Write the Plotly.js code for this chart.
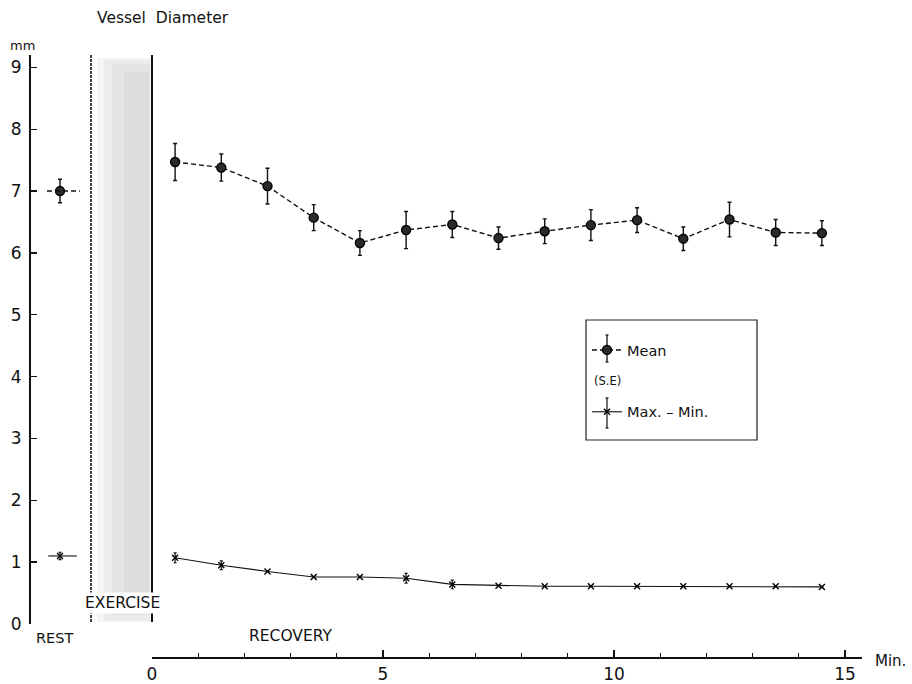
<!DOCTYPE html>
<html>
<head>
<meta charset="utf-8">
<script src="https://cdn.plot.ly/plotly-3.0.1.min.js"></script>
<style>html,body{margin:0;padding:0;background:#fff;}#chart{width:912px;height:684px;}</style>
</head>
<body>
<div id="chart"></div>
<script>
// ---- data ----
const recoveryMinutes = [0.5, 1.5, 2.5, 3.5, 4.5, 5.5, 6.5, 7.5, 8.5, 9.5, 10.5, 11.5, 12.5, 13.5, 14.5];
const meanDiameter   = [7.47, 7.38, 7.08, 6.57, 6.16, 6.37, 6.46, 6.24, 6.35, 6.45, 6.53, 6.23, 6.54, 6.33, 6.32];
const meanSE         = [0.30, 0.22, 0.29, 0.21, 0.20, 0.30, 0.21, 0.18, 0.20, 0.25, 0.20, 0.19, 0.28, 0.21, 0.20];
const maxMinDiameter = [1.07, 0.95, 0.85, 0.76, 0.76, 0.74, 0.64, 0.62, 0.61, 0.61, 0.61, 0.61, 0.61, 0.61, 0.60];
const maxMinSE       = [0.08, 0.07, 0, 0, 0, 0.08, 0.07, 0, 0, 0, 0, 0, 0, 0, 0];
const restPosition = [0.5];
const restMean = [7.0];
const restMeanSE = [0.19];
const restMaxMin = [1.1];
const restMaxMinSE = [0.06];
const yTickValues = [0, 1, 2, 3, 4, 5, 6, 7, 8, 9];
const xTickValues = [0, 5, 10, 15];

// ---- geometry helpers (pixel -> paper) ----
const L = 29, R = 50, T = 55, B = 27, W = 912, H = 684;
const PW = W - L - R, PH = H - T - B;
const px = v => (v - L) / PW;
const py = v => (H - B - v) / PH;
const FONT = '"DejaVu Sans", Verdana, sans-serif';

const meanMarker = {symbol: 'circle', size: 9, color: '#2a2a2a', line: {color: '#000', width: 1.4}};
const xMarker = {symbol: 'x-thin', size: 6, color: '#000', line: {color: '#000', width: 1.4}};

const traces = [
  {
    x: recoveryMinutes, y: meanDiameter, xaxis: 'x', yaxis: 'y',
    name: 'Mean', legendgroup: 'm', mode: 'lines+markers',
    line: {color: '#111', width: 1.4, dash: '5px,3px'},
    marker: meanMarker,
    error_y: {type: 'data', array: meanSE, visible: true, color: '#111', thickness: 1.4, width: 2}
  },
  {
    x: recoveryMinutes, y: maxMinDiameter, xaxis: 'x', yaxis: 'y',
    name: 'Max. – Min.', legendgroup: 'x', mode: 'lines+markers',
    line: {color: '#111', width: 1.1},
    marker: xMarker,
    error_y: {type: 'data', array: maxMinSE, visible: true, color: '#111', thickness: 1.2, width: 1.5}
  },
  {
    x: restPosition, y: restMean, xaxis: 'x2', yaxis: 'y', showlegend: false,
    mode: 'markers', marker: meanMarker,
    error_y: {type: 'data', array: restMeanSE, visible: true, color: '#111', thickness: 1.4, width: 2}
  },
  {
    x: restPosition, y: restMaxMin, xaxis: 'x2', yaxis: 'y', showlegend: false,
    mode: 'markers', marker: xMarker,
    error_y: {type: 'data', array: restMaxMinSE, visible: true, color: '#111', thickness: 1.2, width: 1.5}
  }
];

const vline = (x, y0, y1, w, dash) => ({type: 'line', xref: 'paper', yref: 'paper',
  x0: px(x), x1: px(x), y0: py(y0), y1: py(y1), line: {color: '#111', width: w, dash: dash || 'solid'}});
const hline = (x0, x1, y, w) => ({type: 'line', xref: 'paper', yref: 'paper',
  x0: px(x0), x1: px(x1), y0: py(y), y1: py(y), line: {color: '#111', width: w}});
const band = (x0, x1, y0, y1, c) => ({type: 'rect', xref: 'paper', yref: 'paper',
  x0: px(x0), x1: px(x1), y0: py(y0), y1: py(y1), fillcolor: c, line: {width: 0}, layer: 'below'});

const shapes = [
  // exercise band shading (stippled look approximated with layered greys)
  band(97, 151, 622, 58, '#f4f4f4'),
  band(104, 150, 621, 60, '#ececec'),
  band(112, 150, 615, 64, '#e4e4e4'),
  band(124, 149, 600, 72, '#dcdcdc'),
  // exercise boundaries
  vline(91, 622, 55, 1.6, '3px,1px'),
  vline(152, 622, 55, 2),
  // rest-period horizontal strokes through the rest points
  {type: 'line', xref: 'x2', yref: 'y', x0: restPosition[0] - 0.21, x1: restPosition[0] + 0.32,
   y0: restMean[0], y1: restMean[0], line: {color: '#111', width: 1.4, dash: '5px,3px'}},
  {type: 'line', xref: 'x2', yref: 'y', x0: restPosition[0] - 0.19, x1: restPosition[0] + 0.27,
   y0: restMaxMin[0], y1: restMaxMin[0], line: {color: '#111', width: 1.1}},
  // legend box
  {type: 'rect', xref: 'paper', yref: 'paper', x0: px(586), x1: px(757), y0: py(440), y1: py(320),
   line: {color: '#222', width: 1.2}, fillcolor: 'rgba(0,0,0,0)'},
  // legend sample error bars
  vline(607, 335, 362, 1.3), hline(605.5, 608.5, 335, 1.2), hline(605.5, 608.5, 362, 1.2),
  vline(607, 398, 428, 1.2), hline(605.5, 608.5, 398, 1.2), hline(605.5, 608.5, 428, 1.2)
];

const ann = (text, x, y, size, extra) => Object.assign({
  text: text, xref: 'paper', yref: 'paper', x: px(x), y: py(y),
  showarrow: false, xanchor: 'center', yanchor: 'middle',
  font: {family: FONT, size: size, color: '#111'}
}, extra || {});

const annotations = [
  ann('Vessel&nbsp;&nbsp;Diameter', 163, 18, 15.5),
  ann('mm', 22, 45, 13),
  ann('REST', 54, 638, 14.5),
  ann('EXERCISE', 122, 603, 15.5, {bgcolor: '#fff', borderpad: 1}),
  ann('RECOVERY', 290, 636, 15.5),
  ann('Min.', 890, 661, 15),
  ann('(S.E)', 607, 381, 11.5)
];

const layout = {
  width: W, height: H,
  margin: {l: L, r: R, t: T, b: B, pad: 0},
  paper_bgcolor: '#fff', plot_bgcolor: 'rgba(0,0,0,0)',
  font: {family: FONT, color: '#111'},
  showlegend: true,
  legend: {
    x: px(587), y: py(334), xanchor: 'left', yanchor: 'top',
    bgcolor: 'rgba(0,0,0,0)', borderwidth: 0,
    font: {family: FONT, size: 14.5, color: '#111'},
    tracegroupgap: 40, itemwidth: 30
  },
  xaxis: {
    domain: [px(152), 1], range: [0, (862 - 152) / 46.2],
    anchor: 'free', position: 0,
    showline: true, linecolor: '#111', linewidth: 1.6,
    showgrid: false, zeroline: false,
    ticks: 'inside', ticklen: 7, tickwidth: 1.4, tickcolor: '#111',
    tickmode: 'array', tickvals: xTickValues, ticktext: xTickValues.map(String),
    minor: {dtick: 1, ticks: 'inside', ticklen: 4, tickwidth: 1.2, tickcolor: '#111', showgrid: false},
    tickfont: {family: FONT, size: 17, color: '#111'},
    ticklabelstandoff: 1
  },
  xaxis2: {
    domain: [0, px(91)], range: [0, 1], anchor: 'y', visible: false
  },
  yaxis: {
    domain: [py(624), 1], range: [0, 9.2],
    anchor: 'free', position: 0,
    showline: true, linecolor: '#111', linewidth: 1.8,
    showgrid: false, zeroline: false,
    ticks: 'inside', ticklen: 6, tickwidth: 1.4, tickcolor: '#111',
    tickmode: 'array', tickvals: yTickValues, ticktext: yTickValues.map(String),
    tickfont: {family: FONT, size: 17, color: '#111'},
    ticklabelstandoff: 4
  },
  shapes: shapes,
  annotations: annotations
};

Plotly.newPlot('chart', traces, layout, {displayModeBar: false, staticPlot: true});
</script>
</body>
</html>
